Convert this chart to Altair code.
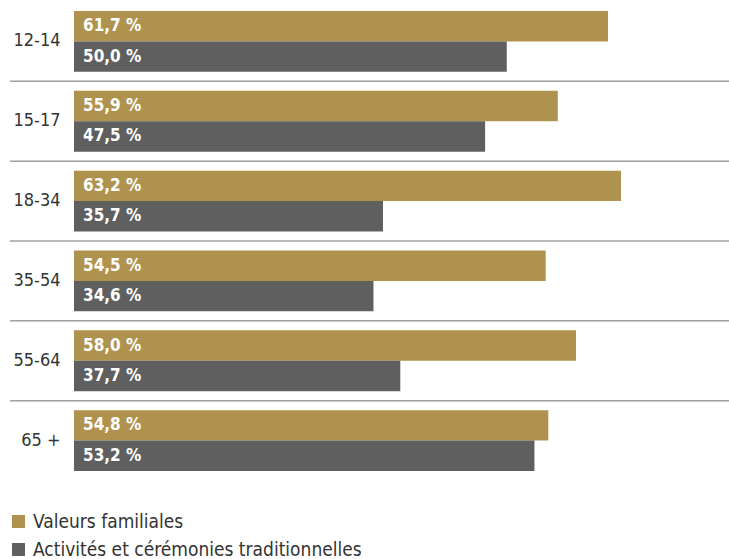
import altair as alt
import pandas as pd

groups = ["12-14", "15-17", "18-34", "35-54", "55-64", "65 +"]
valeurs = [61.7, 55.9, 63.2, 54.5, 58.0, 54.8]
activites = [50.0, 47.5, 35.7, 34.6, 37.7, 53.2]
series = ["Valeurs familiales", "Activités et cérémonies traditionnelles"]
colors = ["#b0924f", "#5e5f5e"]

rows = []
for g, v, a in zip(groups, valeurs, activites):
    rows.append({"group": g, "series": series[0], "value": v})
    rows.append({"group": g, "series": series[1], "value": a})
df = pd.DataFrame(rows)
df["label"] = df["value"].map(lambda v: f"{v:.1f} %".replace(".", ","))

FONT = "Liberation Sans Narrow, DejaVu Sans Condensed, Roboto Condensed, sans-serif"

W, H = 655, 480
XMAX = W / 8.655

yscale = alt.Scale(paddingInner=0.2375, paddingOuter=0.125)
yaxis = alt.Axis(title=None, ticks=False, domain=False, labelPadding=14,
                 labelFontSize=18, labelFont=FONT, labelColor="#333333")

def yenc(**kw):
    return alt.Y("group:N", sort=groups, scale=yscale, axis=yaxis, **kw)

yoff = alt.YOffset("series:N", sort=series,
                   scale=alt.Scale(paddingInner=0, paddingOuter=0))
xenc = alt.X("value:Q", scale=alt.Scale(domain=[0, XMAX], nice=False, zero=True),
             axis=None)

base = alt.Chart(df)

bars = base.mark_bar().encode(
    x=xenc,
    y=yenc(),
    yOffset=yoff,
    color=alt.Color("series:N", sort=series,
                    scale=alt.Scale(domain=series, range=colors),
                    legend=alt.Legend(title=None, orient="none", legendX=-65, legendY=511,
                                      symbolType="square", symbolSize=169,
                                      symbolStrokeWidth=0, labelFontSize=19,
                                      labelFont=FONT, labelColor="#333333",
                                      labelLimit=600,
                                      rowPadding=8, labelOffset=5, padding=0)),
)

texts = base.mark_text(align="left", baseline="middle", color="white",
                       fontWeight="bold", fontSize=17, font=FONT).encode(
    x=alt.value(9),
    y=yenc(),
    yOffset=yoff,
    text="label:N",
)

seps = alt.Chart(pd.DataFrame({"group": groups[:-1]})).mark_rule(
    color="#a0a0a0", strokeWidth=1.5, yOffset=9.5).encode(
    y=yenc(bandPosition=1),
    x=alt.value(-64),
    x2=alt.value(W),
)

chart = alt.layer(bars, seps, texts).properties(
    width=W, height=H,
    autosize=alt.AutoSizeParams(type="none"),
    padding={"left": 74, "top": 1, "right": 0, "bottom": 78},
).configure_view(stroke=None)

chart.save("out.html", embed_options={"renderer": "svg", "actions": False})
